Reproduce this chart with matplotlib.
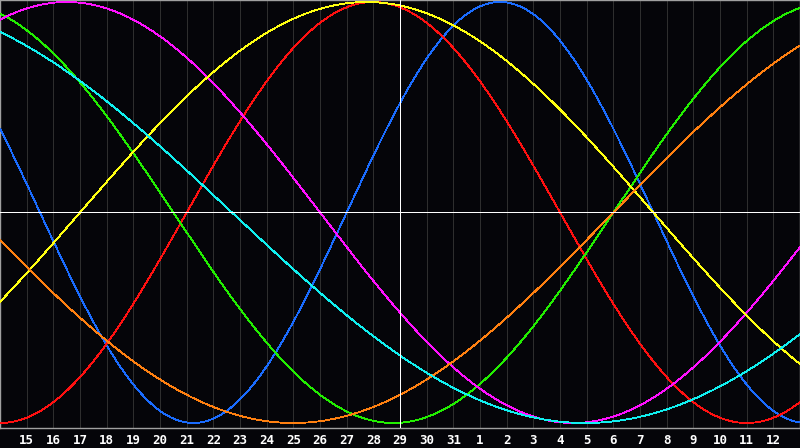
import matplotlib
matplotlib.use("Agg")
import matplotlib.pyplot as plt
import numpy as np

# day labels along the bottom (index 0 = left edge)
day_labels = [14, 15, 16, 17, 18, 19, 20, 21, 22, 23, 24, 25, 26, 27, 28, 29, 30, 31,
              1, 2, 3, 4, 5, 6, 7, 8, 9, 10, 11, 12, 13]
today_idx = 15

# cycles: period in days, day index where the curve crosses zero going up
periods = [23, 28, 33, 38, 43, 48, 53]
zero_up = [13.0, 7.0, 23.0, -7.0, 3.0, 23.0, -17.8]
colors = ['#1a6cff', '#ff1010', '#22ee00', '#ff10ff', '#ffff10', '#ff8010', '#10f0f0']

bg = '#050509'
fig = plt.figure(figsize=(8, 4.48), dpi=100, facecolor=bg)
ax = fig.add_axes([0, 20 / 448, 1, 428 / 448])
ax.set_facecolor(bg)

n_days = len(day_labels) - 1
ax.set_xlim(0, n_days)
ax.set_ylim(-(428 - 212.5) / 210.5, 212.5 / 210.5)

for i in range(1, n_days):
    ax.axvline(i, color='#2e2e2e', lw=0.5, antialiased=False, zorder=1)

ax.axvline(today_idx, color='white', lw=0.7, antialiased=False, zorder=5)
ax.axhline(0, color='white', lw=0.7, antialiased=False, zorder=5)

t = np.linspace(0, n_days, 2000)
for p, u, c in zip(periods, zero_up, colors):
    ax.plot(t, np.sin(2 * np.pi * (t - u) / p), color=c, lw=0.6,
            antialiased=False, zorder=3)

for s in ax.spines.values():
    s.set_color('#a0a0a0')
    s.set_linewidth(1.0)

ax.set_xticks([])
ax.set_yticks([])

for i in range(1, n_days):
    fig.text(i / n_days, 8 / 448, str(day_labels[i]), color='white',
             ha='center', va='center', fontsize=9, fontweight='bold',
             family='DejaVu Sans Mono')

fig.savefig('out.png', dpi=100, facecolor=bg)
